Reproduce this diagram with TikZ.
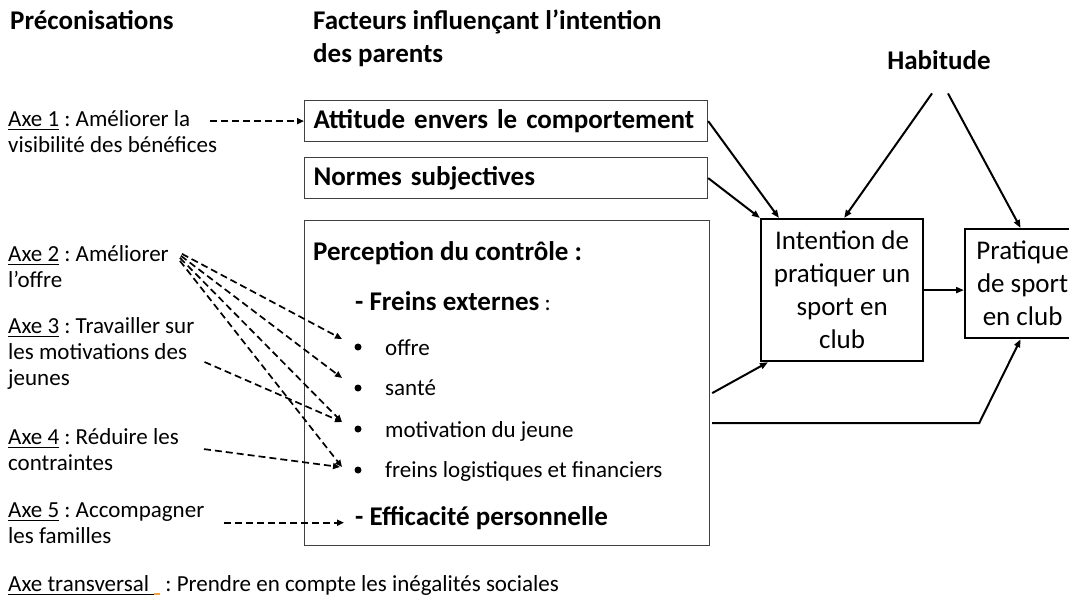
\documentclass[tikz,border=0pt]{standalone}
\usepackage{fontspec}
\setmainfont{Carlito}
\usetikzlibrary{arrows.meta}
\definecolor{marque}{RGB}{245,160,60}
\newsavebox{\boitesoul}
\newcommand{\souligne}[1]{\sbox{\boitesoul}{#1}\rlap{\rule[-3.5pt]{\wd\boitesoul}{1pt}}\usebox{\boitesoul}}
\tikzset{
  titre/.style={anchor=base west,align=left,font=\fontsize{27}{33}\selectfont\bfseries,inner sep=0pt},
  axe/.style={anchor=base west,align=left,font=\fontsize{23}{26}\selectfont,inner sep=0pt},
  texte/.style={anchor=base west,font=\fontsize{23}{26}\selectfont,inner sep=0pt},
  gras/.style={anchor=base west,font=\fontsize{27}{30}\selectfont\bfseries,inner sep=0pt},
  cadre/.style={draw=black!75,line width=1.2pt,anchor=north west},
  boite/.style={cadre,font=\fontsize{27}{30}\selectfont\bfseries,text width=385pt,inner xsep=9pt,inner ysep=0pt,align=left,minimum height=41pt},
  bloc/.style={draw,line width=2.2pt,anchor=north west,align=center,font=\fontsize{27}{33}\selectfont},
  puce/.style={circle,fill,inner sep=0pt,minimum size=7pt},
  fleche/.style={line width=2pt,-{Triangle[length=8pt,width=6pt]}},
  tiret/.style={line width=1.7pt,dash pattern=on 7pt off 4pt,-{Triangle[length=7pt,width=6pt]}}
}
\begin{document}
\frenchspacing
\begin{tikzpicture}[x=1pt,y=-1pt]
\useasboundingbox (0,0) rectangle (1069,598);
\node[titre] (precon) at (10,29) {Préconisations};
\node[titre] (facteurs) at (313,62) {Facteurs influençant l’intention\\des parents};
\node[titre,anchor=base] (habitude) at (939,69) {Habitude};
\node[axe] (axe1) at (8,152) {\souligne{Axe 1} : Améliorer la\\visibilité des bénéfices};
\node[axe] (axe2) at (8,287) {\souligne{Axe 2} : Améliorer\\l’offre};
\node[axe] (axe3) at (8,385) {\souligne{Axe 3} : Travailler sur\\les motivations des\\jeunes};
\node[axe] (axe4) at (8,470) {\souligne{Axe 4} : Réduire les\\contraintes};
\node[axe] (axe5) at (8,543) {\souligne{Axe 5} : Accompagner\\les familles};
\node[axe] (transv) at (8,591) {\souligne{Axe transversal\ }\textcolor{marque}{\rule[-3.5pt]{6pt}{1.2pt}} : Prendre en compte les inégalités sociales};
\node[boite] (att) at (304,100) {Attitude envers le comportement};
\node[boite] (normes) at (304,157) {Normes subjectives};
\node[cadre,minimum width=405pt,minimum height=325pt] (perc) at (304,220) {};
\node[gras] (controle) at (313,260) {Perception du contrôle :};
\node[texte] (freins) at (355,310) {{\fontsize{27}{30}\selectfont\bfseries - Freins externes} :};
\node[puce] (b1) at (358,347) {};
\node[puce] (b2) at (358,388) {};
\node[puce] (b3) at (358,429) {};
\node[puce] (b4) at (358,470) {};
\node[texte] (offre) at (385,355) {offre};
\node[texte] (sante) at (385,395) {santé};
\node[texte] (motiv) at (385,437) {motivation du jeune};
\node[texte] (logist) at (385,477) {freins logistiques et financiers};
\node[gras] (effic) at (355,525) {- Efficacité personnelle};
\node[bloc,minimum width=162pt,minimum height=142pt] (int) at (760,218) {Intention de\\pratiquer un\\sport en\\club};
\node[bloc,minimum width=115pt,minimum height=109pt] (prat) at (964,228) {Pratique\\de sport\\en club};
\draw[tiret] ([xshift=-7pt]axe1.east |- att.west) -- (att.west);
\draw[tiret] ([shift={(13,9)}]axe2.north east) -- ([shift={(-16,-8)}]b1.center);
\draw[tiret] ([shift={(12,11)}]axe2.north east) -- ([shift={(-16,-10)}]b2.center);
\draw[tiret] ([shift={(11,13)}]axe2.north east) -- ([shift={(-16,-7)}]b3.center);
\draw[tiret] ([shift={(11,16)}]axe2.north east) -- ([shift={(-16,-3)}]b4.center);
\draw[tiret] ([shift={(10,9)}]axe3.east) -- ([shift={(-16,-7)}]b3.center);
\draw[tiret] ([xshift=25pt]axe4.east) -- ([shift={(-18,-3)}]b4.center);
\draw[tiret] ([xshift=20pt]axe5.east) -- ([xshift=-11pt]axe5.east -| effic.west);
\draw[fleche] (att.east) -- ([xshift=19pt]int.north west);
\draw[fleche] (normes.east) -- (int.north west);
\draw[fleche] ([shift={(2,10)}]perc.east) -- ([xshift=8pt]int.south west);
\draw[fleche] ([shift={(2,40)}]perc.east) -- ([shift={(269,40)}]perc.east) -- ([xshift=-2pt]prat.south);
\draw[fleche] (int.east) -- (int.east -| prat.west);
\draw[fleche] ([shift={(-7,24)}]habitude.south) -- ([xshift=2pt]int.north);
\draw[fleche] ([shift={(9,24)}]habitude.south) -- ([xshift=-2pt]prat.north);
\end{tikzpicture}
\end{document}
